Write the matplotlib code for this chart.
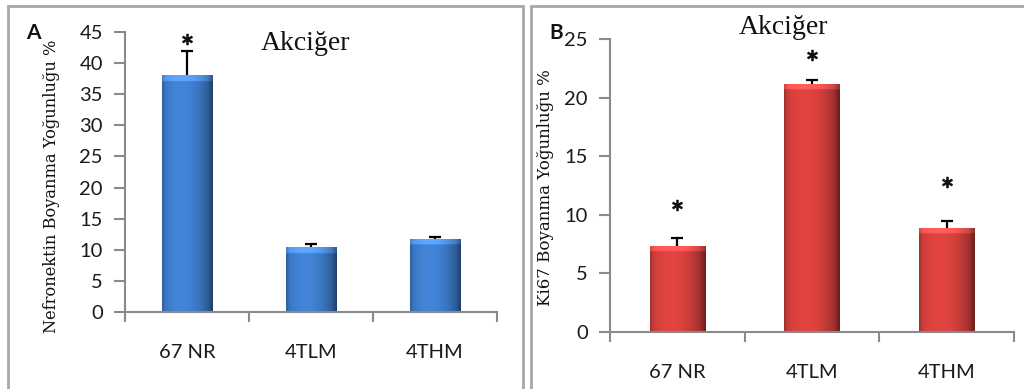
import numpy as np
import matplotlib
matplotlib.use("Agg")
import matplotlib.pyplot as plt
from matplotlib.patches import Rectangle
from matplotlib.colors import to_rgb

# ---- data ----
categories = ["67 NR", "4TLM", "4THM"]
nefronektin = [38.1, 10.4, 11.8]
nefronektin_err = [3.8, 0.5, 0.3]
nefronektin_star = [43.9, None, None]
ki67 = [7.35, 21.2, 8.9]
ki67_err = [0.7, 0.3, 0.6]
ki67_star = [10.8, 23.6, 12.8]
yticks_a = [0, 5, 10, 15, 20, 25, 30, 35, 40, 45]
yticks_b = [0, 5, 10, 15, 20, 25]

W, H = 1024, 389
fig = plt.figure(figsize=(W / 100, H / 100), dpi=100)
fig.patch.set_facecolor("white")

SANS = ["Lato", "DejaVu Sans"]
SERIF = ["Liberation Serif", "DejaVu Serif"]
LABSERIF = ["DejaVu Serif"]
AXC = "#8a8a8a"


def fig_rect(x0, y0, x1, y1):
    return [x0 / W, 1 - y1 / H, (x1 - x0) / W, (y1 - y0) / H]


def shade_bars(ax, bars, base):
    fig.canvas.draw()
    inv = ax.transData.inverted()
    p0 = inv.transform((0, 0))
    p1 = inv.transform((0, 6))
    bevel = p1[1] - p0[1]
    xlim, ylim = ax.get_xlim(), ax.get_ylim()
    base = np.array(to_rgb(base))
    for b in bars:
        x, y = b.get_xy()
        w, h = b.get_width(), b.get_height()
        ncol, nrow = 80, 200
        u = np.linspace(0, 1, ncol)
        prof = 1.08 - 0.45 * ((u - 0.38) / 0.62) ** 2
        prof = np.where(u > 0.9, prof * (1 - (u - 0.9) * 2.0), prof)
        prof = np.where(u < 0.06, prof * (0.85 + u * 2.5), prof)
        img = np.clip(base[None, None, :] * prof[None, :, None], 0, 1)
        img = np.repeat(img, nrow, axis=0)
        v = np.linspace(0, 1, nrow)
        top_frac = min(bevel / h, 0.5) if h > 0 else 0
        mask = v < top_frac
        img[mask] = np.clip(img[mask] * 1.15 + 0.06, 0, 1)
        im = ax.imshow(img, extent=[x, x + w, y, y + h], aspect="auto",
                       zorder=b.get_zorder() + 0.1, interpolation="bilinear")
        im.set_clip_path(b)
    ax.set_xlim(xlim)
    ax.set_ylim(ylim)


def style_axis(ax, yticks, ymax):
    ax.set_xlim(-0.5, 2.5)
    ax.set_ylim(0, ymax)
    for s in ["top", "right"]:
        ax.spines[s].set_visible(False)
    for s in ["left", "bottom"]:
        ax.spines[s].set_color(AXC)
        ax.spines[s].set_linewidth(1.5)
    ax.set_yticks(yticks)
    ax.tick_params(axis="y", direction="out", length=8, width=1.5, color=AXC,
                   labelsize=14.5, labelcolor="#1a1a1a", pad=8)
    ax.set_xticks(range(len(categories)))
    ax.set_xticklabels(categories)
    ax.set_xticks([-0.5, 0.5, 1.5, 2.5], minor=True)
    ax.tick_params(axis="x", which="major", length=0, pad=23,
                   labelsize=14.5, labelcolor="#1a1a1a")
    ax.tick_params(axis="x", which="minor", direction="out", length=7,
                   width=1.5, color=AXC)
    for lab in ax.get_xticklabels() + ax.get_yticklabels():
        lab.set_family(SANS)
    ax.set_facecolor("none")


def upper_errorbars(ax, x, vals, errs):
    eb = ax.errorbar(x, vals, yerr=[np.zeros(len(vals)), errs], fmt="none",
                     ecolor="black", elinewidth=1.6, capsize=4, capthick=1.6,
                     zorder=4)
    caps = eb[1]
    if len(caps) >= 2:
        caps[0].set_visible(False)


def stars(ax, x, ys):
    pts = [(xi, s) for xi, s in zip(x, ys) if s is not None]
    if pts:
        px, py = zip(*pts)
        ax.plot(px, py, linestyle="none", marker=r"$\ast$", markersize=7.5,
                color="#111111", markeredgewidth=0.8, zorder=5, clip_on=False)


# panel borders
fig.add_artist(Rectangle((8 / W, -0.05), (523 - 8) / W, 1.05 - 6 / H,
                         transform=fig.transFigure, fill=False,
                         ec="#a8a8a8", lw=2))
fig.add_artist(Rectangle((531 / W, -0.05), 0.6, 1.05 - 6 / H,
                         transform=fig.transFigure, fill=False,
                         ec="#a8a8a8", lw=2))

x = np.arange(len(categories))

# ---- panel A ----
axA = fig.add_axes(fig_rect(125, 32, 497, 312))
style_axis(axA, yticks_a, 45)
barsA = axA.bar(x, nefronektin, width=0.41, color="#3d7bc9", zorder=2)
upper_errorbars(axA, x, nefronektin, nefronektin_err)
stars(axA, x, nefronektin_star)
axA.set_ylabel("Nefronektin Boyanma Yoğunluğu %", family=LABSERIF,
               fontsize=11.7, color="#111111")
axA.yaxis.set_label_coords(-0.175, 0.448)
fig.text(305 / W, 1 - 43 / H, "Akciğer", ha="center", va="center",
         family=SERIF, fontsize=20, color="#111111")
fig.text(33 / W, 1 - 33 / H, "A", ha="center", va="center", fontsize=15,
         fontweight="bold", family=SANS, color="#111111")
shade_bars(axA, barsA, "#3d7bc9")

# ---- panel B ----
axB = fig.add_axes(fig_rect(610, 39, 1014, 332))
style_axis(axB, yticks_b, 25)
barsB = axB.bar(x, ki67, width=0.41, color="#d23f3c", zorder=2)
upper_errorbars(axB, x, ki67, ki67_err)
stars(axB, x, ki67_star)
axB.set_ylabel("Ki67 Boyanma Yoğunluğu %", family=LABSERIF, fontsize=12,
               color="#111111")
axB.yaxis.set_label_coords(-0.139, 0.493)
fig.text(783 / W, 1 - 28 / H, "Akciğer", ha="center", va="center",
         family=SERIF, fontsize=20, color="#111111")
fig.text(556 / W, 1 - 33 / H, "B", ha="center", va="center", fontsize=15,
         fontweight="bold", family=SANS, color="#111111")
shade_bars(axB, barsB, "#d23f3c")

fig.savefig("out.png", dpi=100, facecolor="white")
